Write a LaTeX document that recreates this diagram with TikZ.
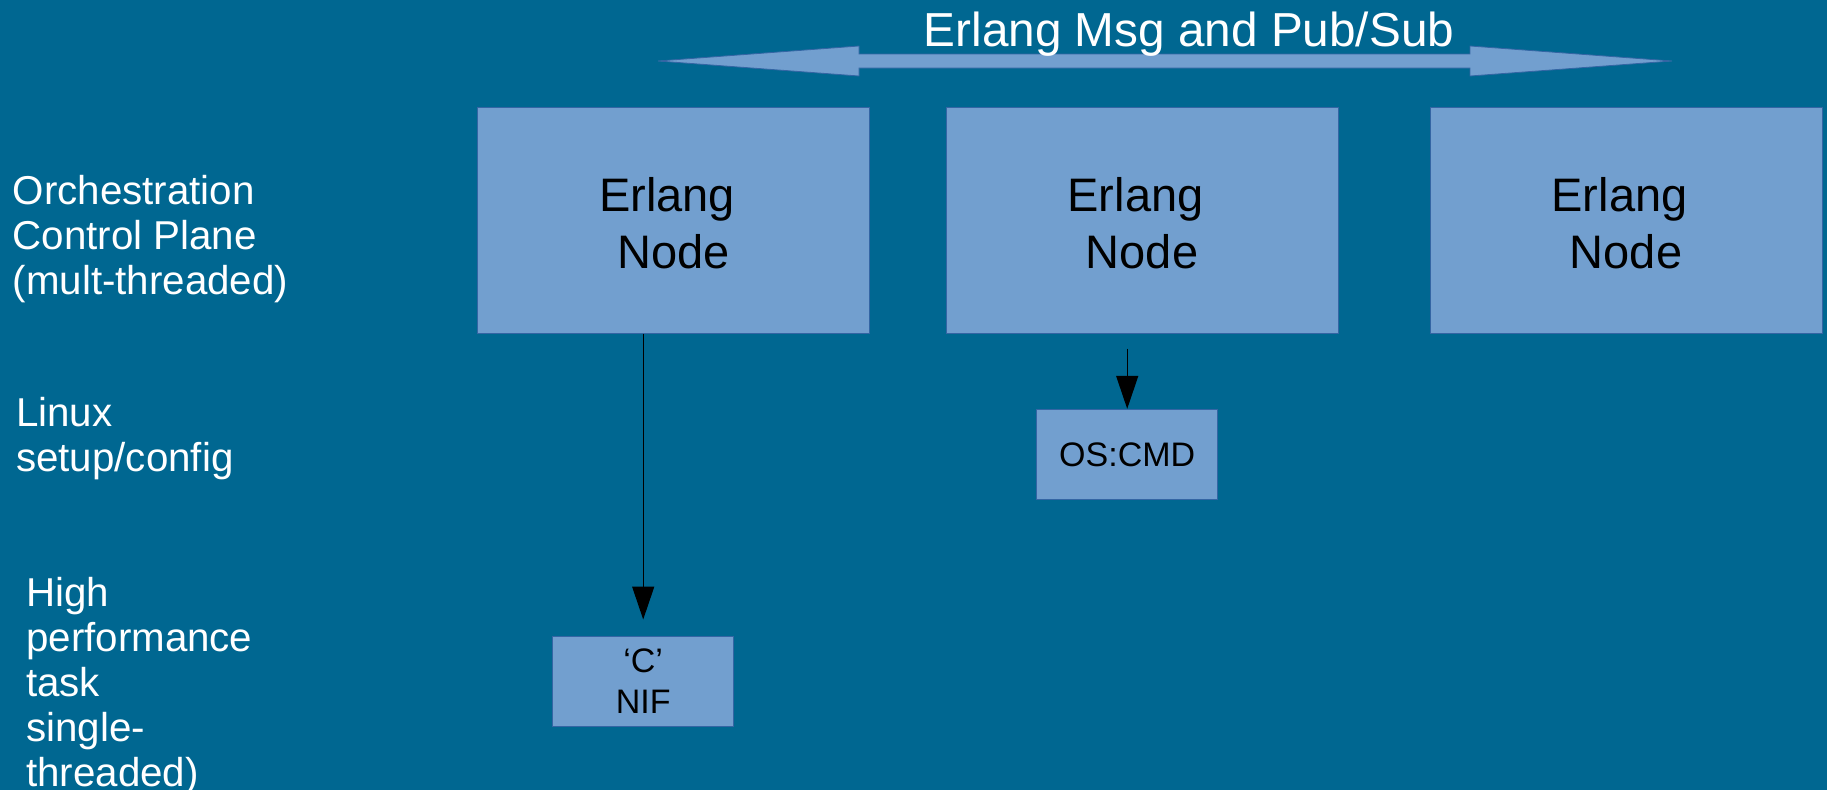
\documentclass[tikz,border=0pt]{standalone}
\usepackage{fontspec}
\setmainfont{Liberation Sans}
\usetikzlibrary{arrows.meta}
\definecolor{bgblue}{RGB}{0,103,145}
\definecolor{boxfill}{HTML}{729FCF}
\definecolor{boxline}{HTML}{3465A4}
\tikzset{
  ebox/.style={draw=boxline, fill=boxfill, line width=1pt, inner sep=0pt,
    minimum width=392pt, minimum height=226pt, align=center, text=black,
    font=\fontsize{47}{56.5}\selectfont},
  sbox/.style={draw=boxline, fill=boxfill, line width=1pt, inner sep=0pt,
    minimum width=181pt, minimum height=90pt, align=center, text=black,
    font=\fontsize{34}{40.7}\selectfont},
  lab/.style={anchor=north west, inner sep=0pt, align=left, text=white,
    font=\fontsize{40.3}{45}\selectfont},
  conn/.style={draw=black, line width=1.4pt, -{Triangle[length=33pt,width=22pt]}},
  bigarrow/.style={draw=boxline, fill=boxfill, line width=0.8pt, line join=miter}
}
\newcommand{\ehead}{\rule{0pt}{39.6pt}}
\begin{document}
\begin{tikzpicture}[x=1pt,y=-1pt]
\useasboundingbox (0,0) rectangle (1827,790);
\fill[bgblue] (0,0) rectangle (1827,790);

% double arrow
\coordinate (tipL) at (658,61);
\coordinate (tipR) at (1672,61);
\draw[bigarrow] (tipL) -- (859,46) -- (859,54) -- (1470,54) -- (1470,46) -- (tipR)
  -- (1470,76) -- (1470,68) -- (859,68) -- (859,76) -- cycle;
\node[anchor=base, inner sep=0pt, text=white, font=\fontsize{47.7}{55}\selectfont]
  (title) at (1189,46.5) {Erlang Msg and Pub/Sub};

% Erlang nodes
\node[ebox] (n1) at (673.5,220.2) {\ehead Erlang\rule{13pt}{0pt}\\Node};
\node[ebox] (n2) at (1142,220.2) {\ehead Erlang\rule{13pt}{0pt}\\Node};
\node[ebox] (n3) at (1626,220.2) {\ehead Erlang\rule{13pt}{0pt}\\Node};

% small boxes
\node[sbox] (os) at (1127.2,454.3) {OS:CMD};
\node[sbox] (nif) at (643.2,681) {‘C’\\NIF};

% connectors
\draw[conn, shorten >=16pt] (n1.south -| nif.north) -- (nif.north);
\draw[conn, shorten <=15pt] (n2.south -| os.north) -- (os.north);

% left labels
\node[lab] (l1) at (12.5,172.5) {\rule{0pt}{32pt}Orchestration\\Control Plane\\(mult-threaded)};
\node[lab] (l2) at (16,394) {\rule{0pt}{32pt}Linux\\setup/config};
\node[lab] (l3) at (26,574) {\rule{0pt}{32pt}High\\performance\\task\\single-\\threaded)};
\end{tikzpicture}
\end{document}
